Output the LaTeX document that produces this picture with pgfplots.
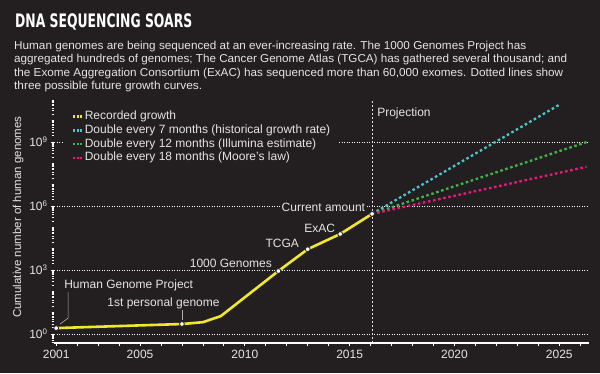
\documentclass[border=0pt]{standalone}
\usepackage{fontspec}
\setmainfont{Liberation Sans}
\newfontfamily\titlefont{DejaVu Sans}
\usepackage{pgfplots}
\pgfplotsset{compat=1.18}
\definecolor{bg}{HTML}{231F20}
\definecolor{fg}{HTML}{E4E4E4}
\definecolor{ylw}{HTML}{F2E82A}
\definecolor{cteal}{HTML}{4CC5C9}
\definecolor{cgreen}{HTML}{3DB54A}
\definecolor{cpink}{HTML}{E8197D}
\begin{document}
\begin{tikzpicture}
\fill[bg] (0pt,0pt) rectangle (600pt,373pt);
\node[anchor=base west, inner sep=0pt, text=white] at (15pt,345.3pt) {\resizebox{177pt}{13.8pt}{\titlefont\bfseries DNA SEQUENCING SOARS}};
\begin{scope}[every node/.style={anchor=base west, inner sep=0pt, text=fg, font=\fontsize{11.5}{13}\selectfont}]
\node at (14pt,323.7pt) {\resizebox{512pt}{\height}{Human genomes are being sequenced at an ever-increasing rate. The 1000 Genomes Project has}};
\node at (14pt,310.2pt) {\resizebox{553pt}{\height}{aggregated hundreds of genomes; The Cancer Genome Atlas (TGCA) has gathered several thousand; and}};
\node at (14pt,296.7pt) {\resizebox{549pt}{\height}{the Exome Aggregation Consortium (ExAC) has sequenced more than 60,000 exomes. Dotted lines show}};
\node at (14pt,283.2pt) {\resizebox{188pt}{\height}{three possible future growth curves.}};
\end{scope}
\begin{axis}[
  at={(54.1pt,30pt)}, anchor=south west, scale only axis,
  width=534.5pt, height=243.6pt,
  xmin=2000.9, xmax=2026.4,
  ymode=log, ymin=0.3802, ymax=1e11,
  axis x line*=bottom, axis y line*=left,
  x axis line style={white, line width=1.1pt},
  y axis line style={draw=none},
  tick align=outside,
  /pgf/number format/assume math mode=true,
  /pgf/number format/1000 sep={},
  xtick={2001,2005,2010,2015,2020,2025},
  xticklabels={2001,2005,2010,2015,2020,2025},
  minor xtick={2002,2003,2004,2006,2007,2008,2009,2011,2012,2013,2014,2016,2017,2018,2019,2021,2022,2023,2024,2026},
  x tick style={white, line width=0.8pt},
  major tick length=3pt, minor tick length=2.5pt,
  ytick={1,1e3,1e6,1e9},
  yticklabels={10\textsuperscript{0},10\textsuperscript{3},10\textsuperscript{6},10\textsuperscript{9}},
  minor ytick={4e-1,5e-1,6e-1,7e-1,8e-1,9e-1,
    2e0,3e0,4e0,5e0,6e0,7e0,8e0,9e0,1e1,2e1,3e1,4e1,5e1,6e1,7e1,8e1,9e1,1e2,2e2,3e2,4e2,5e2,6e2,7e2,8e2,9e2,
    2e3,3e3,4e3,5e3,6e3,7e3,8e3,9e3,1e4,2e4,3e4,4e4,5e4,6e4,7e4,8e4,9e4,1e5,2e5,3e5,4e5,5e5,6e5,7e5,8e5,9e5,
    2e6,3e6,4e6,5e6,6e6,7e6,8e6,9e6,1e7,2e7,3e7,4e7,5e7,6e7,7e7,8e7,9e7,1e8,2e8,3e8,4e8,5e8,6e8,7e8,8e8,9e8,
    2e9,3e9,4e9,5e9,6e9,7e9,8e9,9e9,1e10,2e10,3e10,4e10,5e10,6e10,7e10,8e10,9e10},
  y tick style={white, line width=0.7pt},
  ymajorgrids, yminorgrids=false,
  major grid style={white, line width=0.8pt, dash pattern=on 1pt off 1.5pt},
  tick label style={text=fg, font=\fontsize{12}{12}\selectfont},
  xticklabel style={yshift=-1pt},
  ylabel={Cumulative number of human genomes},
  ylabel style={at={(axis description cs:-0.0674,0.517)}, anchor=center, text=fg, font=\fontsize{11.5}{12}\selectfont},
  legend style={at={(axis description cs:0.0185,0.965)}, anchor=north west, fill=bg, draw=none, text=fg,
    font=\fontsize{12}{12}\selectfont, inner xsep=8pt, inner ysep=2pt, row sep=0.5pt,
    nodes={inner sep=1pt, text height=8.6pt, text depth=2.6pt}},
  legend cell align=left,
  legend image code/.code={\draw[#1, dash pattern=on 1.8pt off 1.6pt] (0pt,0pt) -- (9pt,0pt);},
  clip=false,
]
\addplot[ylw, line width=2.6pt] coordinates {(2001,1.9) (2007,2.95) (2008,3.6) (2008.85,6.9) (2011.6,900) (2013,9500) (2014.55,49000) (2016.07,430000)};
\addlegendentry{Recorded growth}
\addplot[cteal, line width=2.3pt, dash pattern=on 2.6pt off 2.6pt] coordinates {(2016.07,430000) (2025.05,6e10)};
\addlegendentry{Double every 7 months (historical growth rate)}
\addplot[cgreen, line width=2.3pt, dash pattern=on 2.6pt off 2.6pt] coordinates {(2016.07,430000) (2026.3,1e9)};
\addlegendentry{Double every 12 months (Illumina estimate)}
\addplot[cpink, line width=2.3pt, dash pattern=on 2.6pt off 2.6pt] coordinates {(2016.07,430000) (2026.3,6.9e7)};
\addlegendentry{Double every 18 months (Moore's law)}
\draw[fg, line width=0.8pt, dash pattern=on 2pt off 2pt] (axis cs:2016.07,0.3802) -- (axis cs:2016.07,8e10);
\node[anchor=west, text=fg, font=\fontsize{12}{12}\selectfont, inner sep=0pt] at (axis cs:2016.07,2.3e10) [xshift=5pt] {Projection};
\draw[gray!60!white, line width=0.6pt] (axis cs:2001.19,2.95) -- (axis cs:2001.57,5.6) -- (axis cs:2001.57,93);
\draw[gray!60!white, line width=0.6pt] (axis cs:2007,4.5) -- (axis cs:2007,13.3);
\begin{scope}[every node/.style={text=fg, font=\fontsize{12}{12}\selectfont, inner sep=1pt}]
\node[anchor=west] at (axis cs:2001.33,200) {Human Genome Project};
\node[anchor=west] at (axis cs:2003.39,28) {1st personal genome};
\node[anchor=east] at (axis cs:2011.35,2140) {1000 Genomes};
\node[anchor=east] at (axis cs:2012.64,18600) {TCGA};
\node[anchor=east] at (axis cs:2014.36,93000) {ExAC};
\node[anchor=east, fill=bg, inner xsep=2pt] at (axis cs:2015.84,8.9e5) {Current amount};
\end{scope}
\addplot[only marks, mark=*, mark size=2.4pt, mark options={fill=white, draw=bg, line width=0.8pt}, forget plot]
  coordinates {(2001,1.9) (2007,2.95) (2011.6,900) (2013,9500) (2014.55,49000) (2016.07,430000)};
\end{axis}
\pgfresetboundingbox
\path (0pt,0pt) rectangle (600pt,373pt);
\end{tikzpicture}
\end{document}
